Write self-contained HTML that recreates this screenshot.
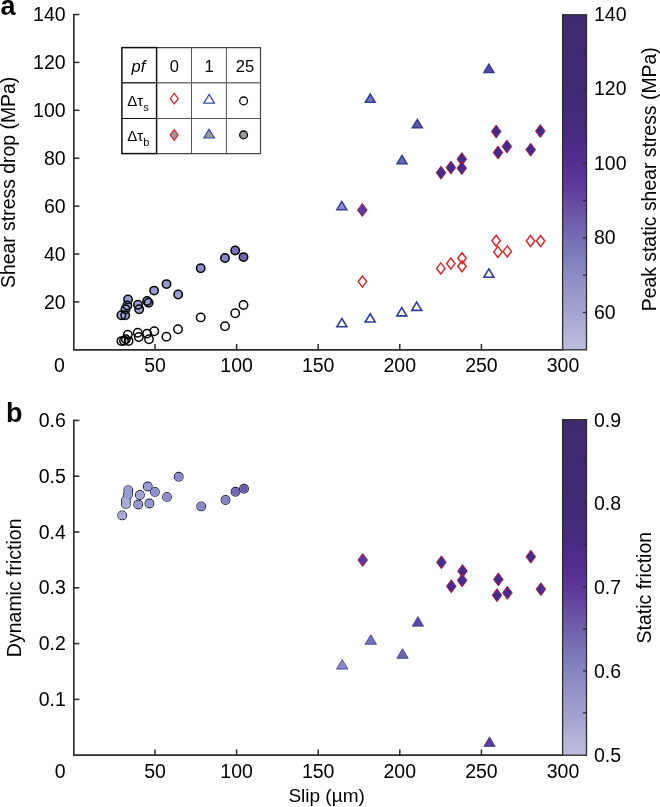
<!DOCTYPE html><html><head><meta charset="utf-8"><style>html,body{margin:0;padding:0;background:#fff;overflow:hidden}svg{display:block;filter:blur(0.3px)}</style></head><body>
<svg width="660" height="807" viewBox="0 0 660 807" font-family='&quot;Liberation Sans&quot;, sans-serif'>
<defs><linearGradient id="cm" x1="0" y1="0" x2="0" y2="1">
<stop offset="0.000" stop-color="#3f2a70"/>
<stop offset="0.280" stop-color="#422a76"/>
<stop offset="0.360" stop-color="#482b82"/>
<stop offset="0.430" stop-color="#532d8e"/>
<stop offset="0.490" stop-color="#5e3498"/>
<stop offset="0.530" stop-color="#62409c"/>
<stop offset="0.580" stop-color="#6a52a4"/>
<stop offset="0.650" stop-color="#7468b0"/>
<stop offset="0.730" stop-color="#8080be"/>
<stop offset="0.800" stop-color="#9490c6"/>
<stop offset="0.876" stop-color="#a2a0cc"/>
<stop offset="0.970" stop-color="#b8b8dc"/>
<stop offset="1.000" stop-color="#bcbcde"/>
</linearGradient></defs>
<rect width="660" height="807" fill="#fff"/>
<path d="M73.80 13.90 V349.80" fill="none" stroke="#2b2b2b" stroke-width="1.6"/>
<path d="M73.00 349.80 H562.60" fill="none" stroke="#2b2b2b" stroke-width="1.8"/>
<path d="M73.80 301.90 H79.4" stroke="#2b2b2b" stroke-width="1.5"/>
<path d="M73.80 254.00 H79.4" stroke="#2b2b2b" stroke-width="1.5"/>
<path d="M73.80 206.10 H79.4" stroke="#2b2b2b" stroke-width="1.5"/>
<path d="M73.80 158.20 H79.4" stroke="#2b2b2b" stroke-width="1.5"/>
<path d="M73.80 110.30 H79.4" stroke="#2b2b2b" stroke-width="1.5"/>
<path d="M73.80 62.40 H79.4" stroke="#2b2b2b" stroke-width="1.5"/>
<path d="M73.80 14.50 H79.4" stroke="#2b2b2b" stroke-width="1.5"/>
<path d="M155.00 349.80 v-5.8" stroke="#2b2b2b" stroke-width="1.5"/>
<path d="M236.60 349.80 v-5.8" stroke="#2b2b2b" stroke-width="1.5"/>
<path d="M318.20 349.80 v-5.8" stroke="#2b2b2b" stroke-width="1.5"/>
<path d="M399.80 349.80 v-5.8" stroke="#2b2b2b" stroke-width="1.5"/>
<path d="M481.40 349.80 v-5.8" stroke="#2b2b2b" stroke-width="1.5"/>
<rect x="562.60" y="14.80" width="23.90" height="335.00" fill="url(#cm)" stroke="#2b2b2b" stroke-width="1.3"/>
<path d="M586.50 51.48 h-3.6" stroke="#2b2b2b" stroke-width="1.3"/>
<path d="M586.50 88.76 h-3.6" stroke="#2b2b2b" stroke-width="1.3"/>
<path d="M586.50 126.04 h-3.6" stroke="#2b2b2b" stroke-width="1.3"/>
<path d="M586.50 163.32 h-3.6" stroke="#2b2b2b" stroke-width="1.3"/>
<path d="M586.50 200.60 h-3.6" stroke="#2b2b2b" stroke-width="1.3"/>
<path d="M586.50 237.88 h-3.6" stroke="#2b2b2b" stroke-width="1.3"/>
<path d="M586.50 275.16 h-3.6" stroke="#2b2b2b" stroke-width="1.3"/>
<path d="M586.50 312.44 h-3.6" stroke="#2b2b2b" stroke-width="1.3"/>
<path d="M73.80 419.80 V755.20" fill="none" stroke="#2b2b2b" stroke-width="1.6"/>
<path d="M73.00 755.20 H562.60" fill="none" stroke="#2b2b2b" stroke-width="1.8"/>
<path d="M73.80 699.40 H79.4" stroke="#2b2b2b" stroke-width="1.5"/>
<path d="M73.80 643.60 H79.4" stroke="#2b2b2b" stroke-width="1.5"/>
<path d="M73.80 587.80 H79.4" stroke="#2b2b2b" stroke-width="1.5"/>
<path d="M73.80 532.00 H79.4" stroke="#2b2b2b" stroke-width="1.5"/>
<path d="M73.80 476.20 H79.4" stroke="#2b2b2b" stroke-width="1.5"/>
<path d="M73.80 420.40 H79.4" stroke="#2b2b2b" stroke-width="1.5"/>
<path d="M155.00 755.20 v-5.8" stroke="#2b2b2b" stroke-width="1.5"/>
<path d="M236.60 755.20 v-5.8" stroke="#2b2b2b" stroke-width="1.5"/>
<path d="M318.20 755.20 v-5.8" stroke="#2b2b2b" stroke-width="1.5"/>
<path d="M399.80 755.20 v-5.8" stroke="#2b2b2b" stroke-width="1.5"/>
<path d="M481.40 755.20 v-5.8" stroke="#2b2b2b" stroke-width="1.5"/>
<rect x="562.60" y="419.70" width="23.90" height="335.50" fill="url(#cm)" stroke="#2b2b2b" stroke-width="1.3"/>
<path d="M586.50 461.15 h-3.6" stroke="#2b2b2b" stroke-width="1.3"/>
<path d="M586.50 503.10 h-3.6" stroke="#2b2b2b" stroke-width="1.3"/>
<path d="M586.50 545.05 h-3.6" stroke="#2b2b2b" stroke-width="1.3"/>
<path d="M586.50 587.00 h-3.6" stroke="#2b2b2b" stroke-width="1.3"/>
<path d="M586.50 628.95 h-3.6" stroke="#2b2b2b" stroke-width="1.3"/>
<path d="M586.50 670.90 h-3.6" stroke="#2b2b2b" stroke-width="1.3"/>
<path d="M586.50 712.85 h-3.6" stroke="#2b2b2b" stroke-width="1.3"/>
<text x="65.60" y="308.50" font-size="19.5" text-anchor="end" >20</text>
<text x="65.60" y="260.60" font-size="19.5" text-anchor="end" >40</text>
<text x="65.60" y="212.70" font-size="19.5" text-anchor="end" >60</text>
<text x="65.60" y="164.80" font-size="19.5" text-anchor="end" >80</text>
<text x="65.60" y="116.90" font-size="19.5" text-anchor="end" >100</text>
<text x="65.60" y="69.00" font-size="19.5" text-anchor="end" >120</text>
<text x="65.60" y="21.10" font-size="19.5" text-anchor="end" >140</text>
<text x="65.80" y="706.00" font-size="19.5" text-anchor="end" >0.1</text>
<text x="65.80" y="650.20" font-size="19.5" text-anchor="end" >0.2</text>
<text x="65.80" y="594.40" font-size="19.5" text-anchor="end" >0.3</text>
<text x="65.80" y="538.60" font-size="19.5" text-anchor="end" >0.4</text>
<text x="65.80" y="482.80" font-size="19.5" text-anchor="end" >0.5</text>
<text x="65.80" y="427.00" font-size="19.5" text-anchor="end" >0.6</text>
<text x="59.50" y="371.80" font-size="19.5" text-anchor="middle" >0</text>
<text x="155.00" y="371.80" font-size="19.5" text-anchor="middle" >50</text>
<text x="236.60" y="371.80" font-size="19.5" text-anchor="middle" >100</text>
<text x="318.20" y="371.80" font-size="19.5" text-anchor="middle" >150</text>
<text x="399.80" y="371.80" font-size="19.5" text-anchor="middle" >200</text>
<text x="481.40" y="371.80" font-size="19.5" text-anchor="middle" >250</text>
<text x="563.00" y="371.80" font-size="19.5" text-anchor="middle" >300</text>
<text x="60.30" y="777.60" font-size="19.5" text-anchor="middle" >0</text>
<text x="155.00" y="777.60" font-size="19.5" text-anchor="middle" >50</text>
<text x="236.60" y="777.60" font-size="19.5" text-anchor="middle" >100</text>
<text x="318.20" y="777.60" font-size="19.5" text-anchor="middle" >150</text>
<text x="399.80" y="777.60" font-size="19.5" text-anchor="middle" >200</text>
<text x="481.40" y="777.60" font-size="19.5" text-anchor="middle" >250</text>
<text x="563.00" y="777.60" font-size="19.5" text-anchor="middle" >300</text>
<text x="594.00" y="20.80" font-size="19.5" text-anchor="start" >140</text>
<text x="594.00" y="95.36" font-size="19.5" text-anchor="start" >120</text>
<text x="594.00" y="169.92" font-size="19.5" text-anchor="start" >100</text>
<text x="594.00" y="244.48" font-size="19.5" text-anchor="start" >80</text>
<text x="594.00" y="319.04" font-size="19.5" text-anchor="start" >60</text>
<text x="594.00" y="426.50" font-size="19.5" text-anchor="start" >0.9</text>
<text x="594.00" y="510.40" font-size="19.5" text-anchor="start" >0.8</text>
<text x="594.00" y="594.30" font-size="19.5" text-anchor="start" >0.7</text>
<text x="594.00" y="678.20" font-size="19.5" text-anchor="start" >0.6</text>
<text x="594.00" y="762.10" font-size="19.5" text-anchor="start" >0.5</text>
<text x="0.50" y="15.00" font-size="27" text-anchor="start" font-weight="bold">a</text>
<text x="6.00" y="421.50" font-size="27" text-anchor="start" font-weight="bold">b</text>
<text transform="translate(15.2 182.4) rotate(-90)" font-size="19.4" text-anchor="middle">Shear stress drop (MPa)</text>
<text transform="translate(655.5 179.3) rotate(-90)" font-size="19.4" text-anchor="middle">Peak static shear stress (MPa)</text>
<text transform="translate(20.8 587.8) rotate(-90)" font-size="19.5" text-anchor="middle">Dynamic friction</text>
<text transform="translate(651.4 587.7) rotate(-90)" font-size="19.5" text-anchor="middle">Static friction</text>
<text x="326.60" y="801.70" font-size="19" text-anchor="middle" >Slip (µm)</text>
<g fill="none">
<path d="M156.6 47.6H260.5V153.6H156.6" stroke="#444" stroke-width="1.2"/>
<path d="M191.5 47.6V153.6M226.4 47.6V153.6M156.6 118.5H260.5" stroke="#555" stroke-width="1"/>
<path d="M156.6 82.7H260.5" stroke="#777" stroke-width="1.6"/>
<rect x="121.9" y="47.6" width="34.7" height="106" stroke="#111" stroke-width="1.5"/>
<path d="M121.9 82.7H156.6" stroke="#333" stroke-width="1.6"/><path d="M121.9 118.5H156.6" stroke="#111" stroke-width="1.2"/>
</g>
<text x="138.50" y="72.20" font-size="16.5" text-anchor="middle" font-style="italic">pf</text>
<text x="174.40" y="72.00" font-size="16.5" text-anchor="middle" >0</text>
<text x="209.00" y="72.00" font-size="16.5" text-anchor="middle" >1</text>
<text x="245.00" y="72.00" font-size="16.5" text-anchor="middle" >25</text>
<text x="127.2" y="106.2" font-size="15">Δτ<tspan font-size="11" dy="5">s</tspan></text>
<text x="127.2" y="140.8" font-size="15">Δτ<tspan font-size="11" dy="5">b</tspan></text>
<path d="M174.20 93.40L178.20 98.70L174.20 104.00L170.20 98.70Z" fill="none" stroke="#d42a30" stroke-width="1.30"/>
<path d="M209.10 94.40L214.40 103.20L203.80 103.20Z" fill="none" stroke="#3c48a0" stroke-width="1.30"/>
<circle cx="243.60" cy="100.90" r="3.90" fill="#fff" stroke="#000" stroke-width="1.30"/>
<path d="M174.20 129.60L178.20 134.90L174.20 140.20L170.20 134.90Z" fill="#9a9a9a" stroke="#d42a30" stroke-width="1.20"/>
<path d="M209.10 129.20L214.40 138.00L203.80 138.00Z" fill="#9a9a9a" stroke="#3c48a0" stroke-width="1.20"/>
<circle cx="243.60" cy="134.90" r="3.90" fill="#9a9a9a" stroke="#000" stroke-width="1.30"/>
<circle cx="121.40" cy="341.10" r="4.20" fill="none" stroke="#000" stroke-width="1.50"/>
<circle cx="124.00" cy="340.80" r="4.20" fill="none" stroke="#000" stroke-width="1.50"/>
<circle cx="127.80" cy="334.70" r="4.20" fill="none" stroke="#000" stroke-width="1.50"/>
<circle cx="128.60" cy="341.10" r="4.20" fill="none" stroke="#000" stroke-width="1.50"/>
<circle cx="125.90" cy="339.20" r="4.20" fill="none" stroke="#000" stroke-width="1.50"/>
<circle cx="137.70" cy="332.80" r="4.20" fill="none" stroke="#000" stroke-width="1.50"/>
<circle cx="138.80" cy="337.00" r="4.20" fill="none" stroke="#000" stroke-width="1.50"/>
<circle cx="147.10" cy="333.60" r="4.20" fill="none" stroke="#000" stroke-width="1.50"/>
<circle cx="149.00" cy="339.20" r="4.20" fill="none" stroke="#000" stroke-width="1.50"/>
<circle cx="154.30" cy="331.30" r="4.20" fill="none" stroke="#000" stroke-width="1.50"/>
<circle cx="166.40" cy="336.80" r="4.20" fill="none" stroke="#000" stroke-width="1.50"/>
<circle cx="178.00" cy="329.20" r="4.20" fill="none" stroke="#000" stroke-width="1.50"/>
<circle cx="200.70" cy="317.40" r="4.20" fill="none" stroke="#000" stroke-width="1.50"/>
<circle cx="225.00" cy="326.20" r="4.20" fill="none" stroke="#000" stroke-width="1.50"/>
<circle cx="235.20" cy="313.30" r="4.20" fill="none" stroke="#000" stroke-width="1.50"/>
<circle cx="243.50" cy="305.00" r="4.20" fill="none" stroke="#000" stroke-width="1.50"/>
<circle cx="121.40" cy="315.30" r="4.20" fill="#a8a8d4" stroke="none" stroke-width="0.00"/>
<circle cx="125.20" cy="315.30" r="4.20" fill="#a4a4d2" stroke="none" stroke-width="0.00"/>
<circle cx="125.50" cy="309.20" r="4.20" fill="#a0a0d0" stroke="none" stroke-width="0.00"/>
<circle cx="127.40" cy="305.50" r="4.20" fill="#9c9cd0" stroke="none" stroke-width="0.00"/>
<circle cx="128.00" cy="299.40" r="4.20" fill="#9c9cd0" stroke="none" stroke-width="0.00"/>
<circle cx="138.00" cy="304.70" r="4.20" fill="#a0a0d2" stroke="none" stroke-width="0.00"/>
<circle cx="139.20" cy="309.20" r="4.20" fill="#a0a0d2" stroke="none" stroke-width="0.00"/>
<circle cx="147.10" cy="300.90" r="4.20" fill="#9c9cd0" stroke="none" stroke-width="0.00"/>
<circle cx="148.60" cy="302.80" r="4.20" fill="#9c9cd0" stroke="none" stroke-width="0.00"/>
<circle cx="154.10" cy="290.60" r="4.20" fill="#9a9ad0" stroke="none" stroke-width="0.00"/>
<circle cx="166.50" cy="284.10" r="4.20" fill="#9898cc" stroke="none" stroke-width="0.00"/>
<circle cx="178.20" cy="294.50" r="4.20" fill="#9c9cd2" stroke="none" stroke-width="0.00"/>
<circle cx="200.70" cy="268.20" r="4.20" fill="#8c8cc8" stroke="none" stroke-width="0.00"/>
<circle cx="225.00" cy="258.00" r="4.20" fill="#8a86c6" stroke="none" stroke-width="0.00"/>
<circle cx="235.20" cy="250.50" r="4.20" fill="#7a70bc" stroke="none" stroke-width="0.00"/>
<circle cx="243.50" cy="257.10" r="4.20" fill="#7266b2" stroke="none" stroke-width="0.00"/>
<circle cx="121.40" cy="315.30" r="4.20" fill="none" stroke="#000" stroke-width="1.50"/>
<circle cx="125.20" cy="315.30" r="4.20" fill="none" stroke="#000" stroke-width="1.50"/>
<circle cx="125.50" cy="309.20" r="4.20" fill="none" stroke="#000" stroke-width="1.50"/>
<circle cx="127.40" cy="305.50" r="4.20" fill="none" stroke="#000" stroke-width="1.50"/>
<circle cx="128.00" cy="299.40" r="4.20" fill="none" stroke="#000" stroke-width="1.50"/>
<circle cx="138.00" cy="304.70" r="4.20" fill="none" stroke="#000" stroke-width="1.50"/>
<circle cx="139.20" cy="309.20" r="4.20" fill="none" stroke="#000" stroke-width="1.50"/>
<circle cx="147.10" cy="300.90" r="4.20" fill="none" stroke="#000" stroke-width="1.50"/>
<circle cx="148.60" cy="302.80" r="4.20" fill="none" stroke="#000" stroke-width="1.50"/>
<circle cx="154.10" cy="290.60" r="4.20" fill="none" stroke="#000" stroke-width="1.50"/>
<circle cx="166.50" cy="284.10" r="4.20" fill="none" stroke="#000" stroke-width="1.50"/>
<circle cx="178.20" cy="294.50" r="4.20" fill="none" stroke="#000" stroke-width="1.50"/>
<circle cx="200.70" cy="268.20" r="4.20" fill="none" stroke="#000" stroke-width="1.50"/>
<circle cx="225.00" cy="258.00" r="4.20" fill="none" stroke="#000" stroke-width="1.50"/>
<circle cx="235.20" cy="250.50" r="4.20" fill="none" stroke="#000" stroke-width="1.50"/>
<circle cx="243.50" cy="257.10" r="4.20" fill="none" stroke="#000" stroke-width="1.50"/>
<path d="M362.40 276.10L366.60 281.60L362.40 287.10L358.20 281.60Z" fill="none" stroke="#d42a30" stroke-width="1.50"/>
<path d="M440.80 262.90L445.00 268.40L440.80 273.90L436.60 268.40Z" fill="none" stroke="#d42a30" stroke-width="1.50"/>
<path d="M450.80 258.00L455.00 263.50L450.80 269.00L446.60 263.50Z" fill="none" stroke="#d42a30" stroke-width="1.50"/>
<path d="M462.00 252.70L466.20 258.20L462.00 263.70L457.80 258.20Z" fill="none" stroke="#d42a30" stroke-width="1.50"/>
<path d="M462.00 260.70L466.20 266.20L462.00 271.70L457.80 266.20Z" fill="none" stroke="#d42a30" stroke-width="1.50"/>
<path d="M496.10 235.30L500.30 240.80L496.10 246.30L491.90 240.80Z" fill="none" stroke="#d42a30" stroke-width="1.50"/>
<path d="M497.90 246.40L502.10 251.90L497.90 257.40L493.70 251.90Z" fill="none" stroke="#d42a30" stroke-width="1.50"/>
<path d="M507.30 245.90L511.50 251.40L507.30 256.90L503.10 251.40Z" fill="none" stroke="#d42a30" stroke-width="1.50"/>
<path d="M530.50 235.50L534.70 241.00L530.50 246.50L526.30 241.00Z" fill="none" stroke="#d42a30" stroke-width="1.50"/>
<path d="M540.60 235.50L544.80 241.00L540.60 246.50L536.40 241.00Z" fill="none" stroke="#d42a30" stroke-width="1.50"/>
<path d="M362.30 203.50L367.10 210.00L362.30 216.50L357.50 210.00Z" fill="#583c9c" stroke="#b41e46" stroke-width="1.00"/>
<path d="M441.00 166.20L445.80 172.70L441.00 179.20L436.20 172.70Z" fill="#452c8a" stroke="#b41e46" stroke-width="1.00"/>
<path d="M450.90 161.10L455.70 167.60L450.90 174.10L446.10 167.60Z" fill="#452c8a" stroke="#b41e46" stroke-width="1.00"/>
<path d="M461.80 152.60L466.60 159.10L461.80 165.60L457.00 159.10Z" fill="#432a88" stroke="#b41e46" stroke-width="1.00"/>
<path d="M461.80 161.70L466.60 168.20L461.80 174.70L457.00 168.20Z" fill="#432a88" stroke="#b41e46" stroke-width="1.00"/>
<path d="M496.20 125.00L501.00 131.50L496.20 138.00L491.40 131.50Z" fill="#422a86" stroke="#b41e46" stroke-width="1.00"/>
<path d="M498.00 146.00L502.80 152.50L498.00 159.00L493.20 152.50Z" fill="#432a88" stroke="#b41e46" stroke-width="1.00"/>
<path d="M506.90 140.00L511.70 146.50L506.90 153.00L502.10 146.50Z" fill="#432a88" stroke="#b41e46" stroke-width="1.00"/>
<path d="M530.70 143.20L535.50 149.70L530.70 156.20L525.90 149.70Z" fill="#432a88" stroke="#b41e46" stroke-width="1.00"/>
<path d="M540.30 124.60L545.10 131.10L540.30 137.60L535.50 131.10Z" fill="#422a86" stroke="#b41e46" stroke-width="1.00"/>
<path d="M341.90 318.45L346.90 326.75L336.90 326.75Z" fill="none" stroke="#2e3c94" stroke-width="1.60"/>
<path d="M370.20 313.75L375.20 322.05L365.20 322.05Z" fill="none" stroke="#2e3c94" stroke-width="1.60"/>
<path d="M401.80 307.55L406.80 315.85L396.80 315.85Z" fill="none" stroke="#2e3c94" stroke-width="1.60"/>
<path d="M416.70 302.05L421.70 310.35L411.70 310.35Z" fill="none" stroke="#2e3c94" stroke-width="1.60"/>
<path d="M488.90 268.95L493.90 277.25L483.90 277.25Z" fill="none" stroke="#2e3c94" stroke-width="1.60"/>
<path d="M341.80 201.35L346.80 209.65L336.80 209.65Z" fill="#8a8ad0" stroke="#34408e" stroke-width="1.50"/>
<path d="M370.30 94.05L375.30 102.35L365.30 102.35Z" fill="#7474c0" stroke="#34408e" stroke-width="1.50"/>
<path d="M402.00 155.35L407.00 163.65L397.00 163.65Z" fill="#6464b8" stroke="#34408e" stroke-width="1.50"/>
<path d="M417.30 119.35L422.30 127.65L412.30 127.65Z" fill="#5a58b0" stroke="#34408e" stroke-width="1.50"/>
<path d="M488.90 64.25L493.90 72.55L483.90 72.55Z" fill="#5a48a8" stroke="#34408e" stroke-width="1.50"/>
<circle cx="122.20" cy="515.40" r="4.40" fill="none" stroke="#26264a" stroke-width="1.10"/>
<circle cx="125.90" cy="500.40" r="4.40" fill="none" stroke="#26264a" stroke-width="1.10"/>
<circle cx="125.90" cy="503.90" r="4.40" fill="none" stroke="#26264a" stroke-width="1.10"/>
<circle cx="128.30" cy="490.20" r="4.40" fill="none" stroke="#26264a" stroke-width="1.10"/>
<circle cx="128.00" cy="494.70" r="4.40" fill="none" stroke="#26264a" stroke-width="1.10"/>
<circle cx="138.20" cy="504.50" r="4.40" fill="none" stroke="#26264a" stroke-width="1.10"/>
<circle cx="139.90" cy="495.00" r="4.40" fill="none" stroke="#26264a" stroke-width="1.10"/>
<circle cx="147.70" cy="486.50" r="4.40" fill="none" stroke="#26264a" stroke-width="1.10"/>
<circle cx="149.40" cy="503.50" r="4.40" fill="none" stroke="#26264a" stroke-width="1.10"/>
<circle cx="154.90" cy="491.90" r="4.40" fill="none" stroke="#26264a" stroke-width="1.10"/>
<circle cx="167.00" cy="496.90" r="4.40" fill="none" stroke="#26264a" stroke-width="1.10"/>
<circle cx="178.70" cy="476.80" r="4.40" fill="none" stroke="#26264a" stroke-width="1.10"/>
<circle cx="201.20" cy="506.40" r="4.40" fill="none" stroke="#26264a" stroke-width="1.10"/>
<circle cx="225.50" cy="500.00" r="4.40" fill="none" stroke="#26264a" stroke-width="1.10"/>
<circle cx="235.50" cy="491.80" r="4.40" fill="none" stroke="#26264a" stroke-width="1.10"/>
<circle cx="244.00" cy="488.80" r="4.40" fill="none" stroke="#26264a" stroke-width="1.10"/>
<circle cx="122.20" cy="515.40" r="3.85" fill="#a8a8d8" stroke="none" stroke-width="0.00"/>
<circle cx="125.90" cy="500.40" r="3.85" fill="#ababd8" stroke="none" stroke-width="0.00"/>
<circle cx="125.90" cy="503.90" r="3.85" fill="#ababd8" stroke="none" stroke-width="0.00"/>
<circle cx="128.30" cy="490.20" r="3.85" fill="#9c9cd4" stroke="none" stroke-width="0.00"/>
<circle cx="128.00" cy="494.70" r="3.85" fill="#9c9cd4" stroke="none" stroke-width="0.00"/>
<circle cx="138.20" cy="504.50" r="3.85" fill="#9898d0" stroke="none" stroke-width="0.00"/>
<circle cx="139.90" cy="495.00" r="3.85" fill="#a0a0d4" stroke="none" stroke-width="0.00"/>
<circle cx="147.70" cy="486.50" r="3.85" fill="#9a9ad2" stroke="none" stroke-width="0.00"/>
<circle cx="149.40" cy="503.50" r="3.85" fill="#9898d0" stroke="none" stroke-width="0.00"/>
<circle cx="154.90" cy="491.90" r="3.85" fill="#9090cc" stroke="none" stroke-width="0.00"/>
<circle cx="167.00" cy="496.90" r="3.85" fill="#8e8eca" stroke="none" stroke-width="0.00"/>
<circle cx="178.70" cy="476.80" r="3.85" fill="#8c8cc8" stroke="none" stroke-width="0.00"/>
<circle cx="201.20" cy="506.40" r="3.85" fill="#8a88c6" stroke="none" stroke-width="0.00"/>
<circle cx="225.50" cy="500.00" r="3.85" fill="#8680c0" stroke="none" stroke-width="0.00"/>
<circle cx="235.50" cy="491.80" r="3.85" fill="#7466b0" stroke="none" stroke-width="0.00"/>
<circle cx="244.00" cy="488.80" r="3.85" fill="#6a58aa" stroke="none" stroke-width="0.00"/>
<path d="M362.70 553.50L367.50 560.00L362.70 566.50L357.90 560.00Z" fill="#553a9a" stroke="#b41e46" stroke-width="1.00"/>
<path d="M441.40 555.80L446.20 562.30L441.40 568.80L436.60 562.30Z" fill="#452c8a" stroke="#b41e46" stroke-width="1.00"/>
<path d="M451.30 579.80L456.10 586.30L451.30 592.80L446.50 586.30Z" fill="#452c8a" stroke="#b41e46" stroke-width="1.00"/>
<path d="M462.50 564.60L467.30 571.10L462.50 577.60L457.70 571.10Z" fill="#452c8a" stroke="#b41e46" stroke-width="1.00"/>
<path d="M462.10 573.90L466.90 580.40L462.10 586.90L457.30 580.40Z" fill="#452c8a" stroke="#b41e46" stroke-width="1.00"/>
<path d="M498.30 572.90L503.10 579.40L498.30 585.90L493.50 579.40Z" fill="#452c8a" stroke="#b41e46" stroke-width="1.00"/>
<path d="M497.00 588.70L501.80 595.20L497.00 601.70L492.20 595.20Z" fill="#452c8a" stroke="#b41e46" stroke-width="1.00"/>
<path d="M507.40 586.30L512.20 592.80L507.40 599.30L502.60 592.80Z" fill="#452c8a" stroke="#b41e46" stroke-width="1.00"/>
<path d="M530.80 550.20L535.60 556.70L530.80 563.20L526.00 556.70Z" fill="#452c8a" stroke="#b41e46" stroke-width="1.00"/>
<path d="M540.90 582.70L545.70 589.20L540.90 595.70L536.10 589.20Z" fill="#452c8a" stroke="#b41e46" stroke-width="1.00"/>
<path d="M342.20 659.50L347.90 669.10L336.50 669.10Z" fill="#8888cc" stroke="#3c3c8c" stroke-width="0.80"/>
<path d="M370.80 634.70L376.50 644.30L365.10 644.30Z" fill="#7470b8" stroke="#3c3c8c" stroke-width="0.80"/>
<path d="M402.50 648.70L408.20 658.30L396.80 658.30Z" fill="#6a62b0" stroke="#3c3c8c" stroke-width="0.80"/>
<path d="M417.90 616.60L423.60 626.20L412.20 626.20Z" fill="#5a4aa4" stroke="#3c3c8c" stroke-width="0.80"/>
<path d="M489.50 736.80L495.20 746.40L483.80 746.40Z" fill="#5a3a9a" stroke="#3c3c8c" stroke-width="0.80"/>
</svg></body></html>
